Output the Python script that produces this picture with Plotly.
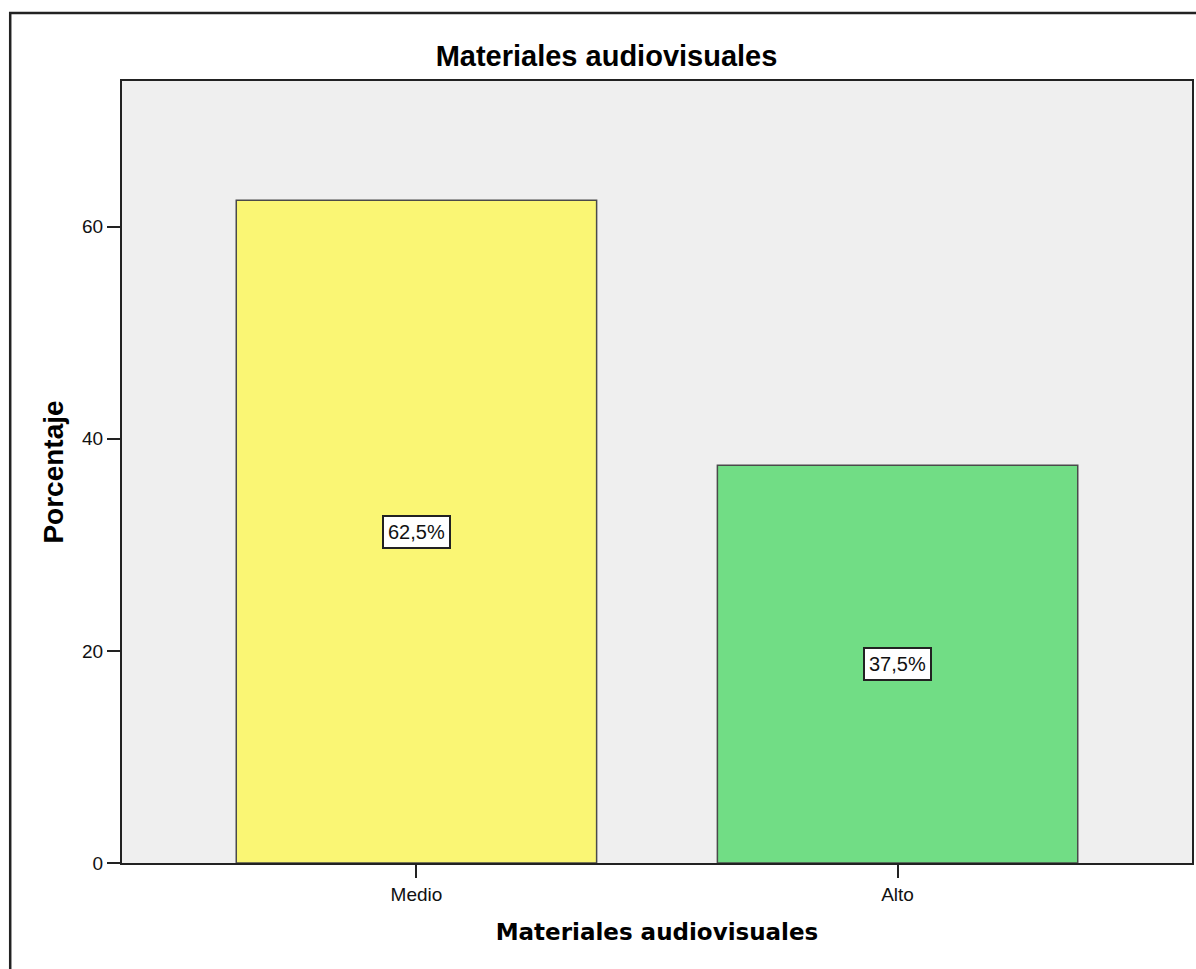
import plotly.graph_objects as go

# ---- data ----
categories = ["Medio", "Alto"]
percentages = [62.5, 37.5]
value_labels = ["62,5%", "37,5%"]
bar_colors = ["#FAF674", "#71DD85"]
y_tick_values = [0, 20, 40, 60]
chart_title = "Materiales audiovisuales"
x_title = "Materiales audiovisuales"
y_title = "Porcentaje"

W, H = 1196, 969
L, R, T, B = 122, 2, 81, 106

fig = go.Figure()
fig.add_trace(go.Bar(
    x=categories,
    y=percentages,
    width=0.749,
    marker=dict(color=bar_colors, line=dict(color="#4a4a4a", width=1.5)),
    hoverinfo="skip",
))

# value labels in boxes at mid-height of each bar
for cat, val, lab in zip(categories, percentages, value_labels):
    fig.add_annotation(
        x=cat, y=val / 2, xref="x", yref="y",
        text=lab, showarrow=False,
        font=dict(family="Liberation Sans, Arial", size=20, color="#111"),
        bgcolor="white", bordercolor="#222", borderwidth=2, borderpad=4,
    )

# outer chart frame (decoration)
pw = W - L - R
ph = H - T - B
fig.add_shape(
    type="rect", xref="paper", yref="paper",
    x0=(10 - L) / pw, x1=(W + 20 - L) / pw,
    y0=-(H + 20 - T - ph) / ph, y1=(H - B - 13) / ph,
    line=dict(color="#222", width=2.5), fillcolor="rgba(0,0,0,0)", layer="below",
)

fig.update_layout(
    width=W, height=H,
    margin=dict(l=L, r=R, t=T, b=B, pad=0),
    paper_bgcolor="white",
    plot_bgcolor="#EFEFEF",
    showlegend=False,
    title=dict(
        text=chart_title, x=606.5 / W, xanchor="center",
        y=1 - 56 / H, yanchor="middle", yref="container",
        font=dict(family="Liberation Sans, Arial", size=29, color="#000", weight="bold"),
    ),
    font=dict(family="Liberation Sans, Arial", color="#111"),
)

fig.update_xaxes(
    range=[-0.612, 1.612],
    showline=True, linecolor="#222", linewidth=2, mirror=True,
    ticks="outside", ticklen=13, tickwidth=1.5, tickcolor="#222",
    tickfont=dict(size=19, family="Liberation Sans, Arial", color="#111"),
    showgrid=False, zeroline=False,
    title=dict(text=x_title, standoff=20,
               font=dict(family="DejaVu Sans", size=23, color="#000", weight="bold")),
)
fig.update_yaxes(
    range=[0, 73.74],
    tickvals=y_tick_values,
    showline=True, linecolor="#222", linewidth=2, mirror=True,
    ticks="outside", ticklen=13, tickwidth=2, tickcolor="#222",
    tickfont=dict(size=19, family="Liberation Sans, Arial", color="#111"),
    showgrid=False, zeroline=False,
    title=dict(text=y_title, standoff=10,
               font=dict(family="Liberation Sans, Arial", size=28, color="#000", weight="bold")),
)

fig.write_html(
    "out.html",
    config={"displayModeBar": False},
    post_script="document.body.style.margin='0';document.body.style.overflow='hidden';",
)
